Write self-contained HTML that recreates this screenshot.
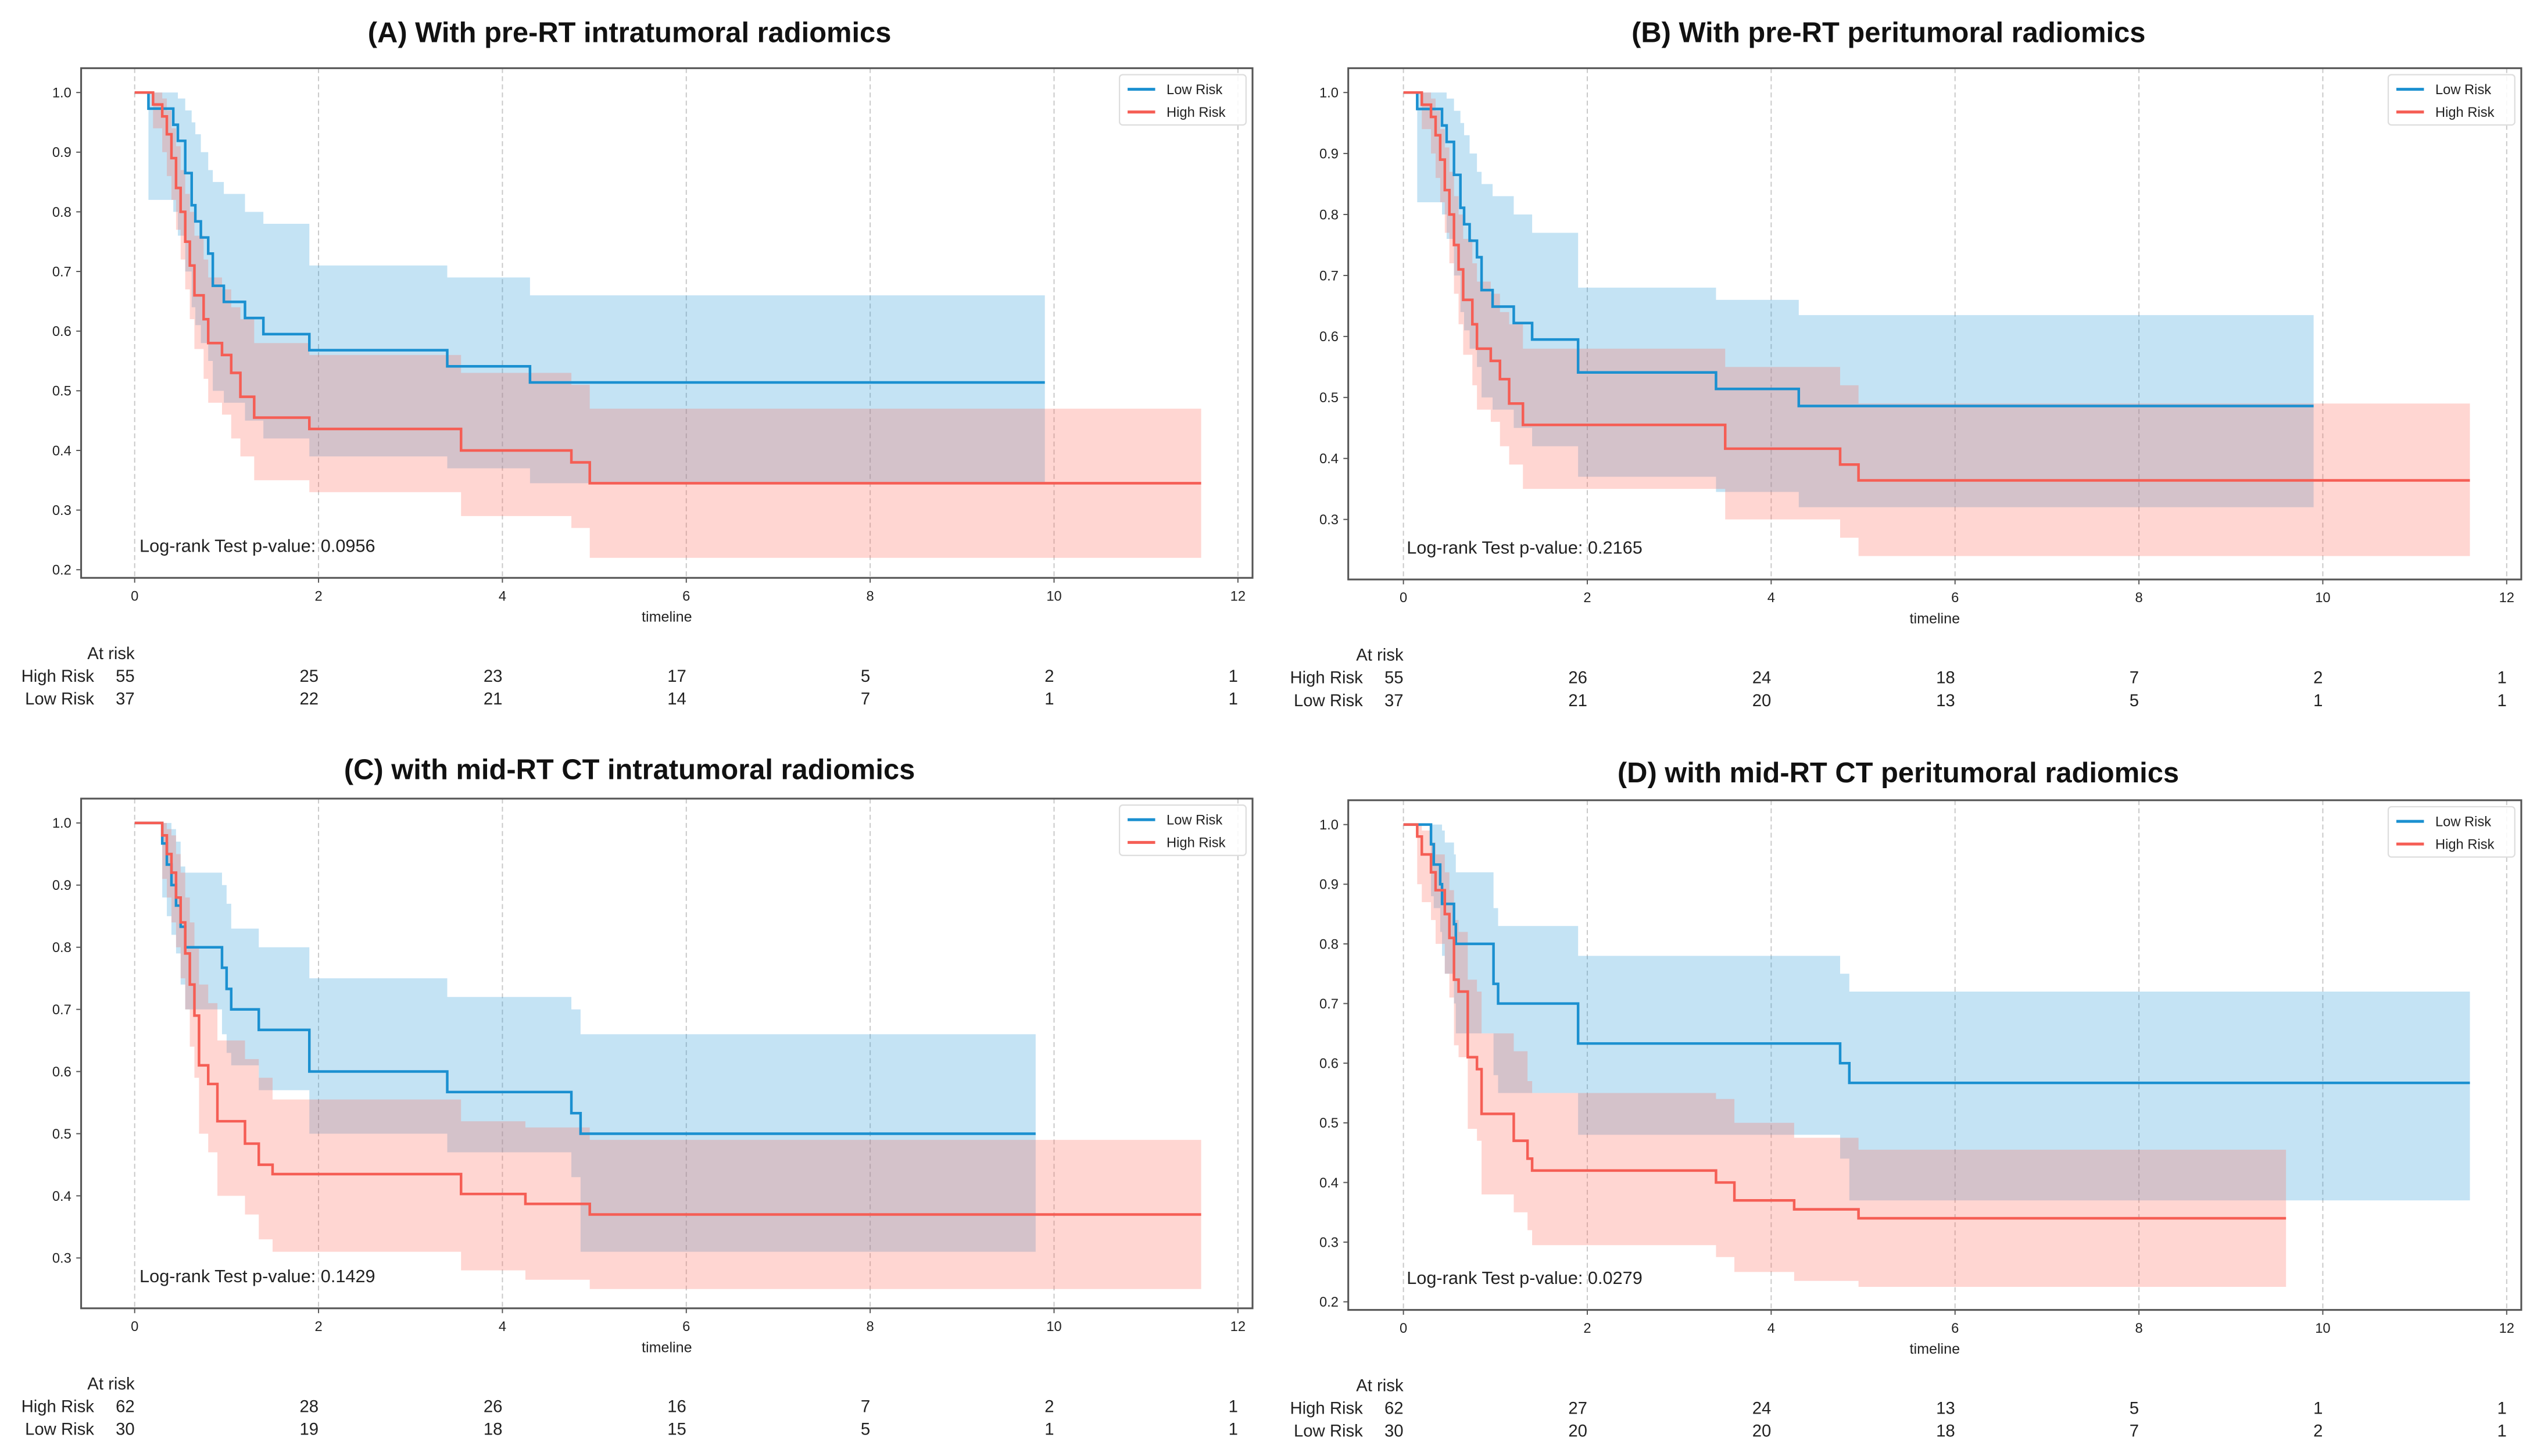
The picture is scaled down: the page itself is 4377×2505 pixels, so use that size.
<!DOCTYPE html>
<html><head><meta charset="utf-8">
<style>
html,body{margin:0;padding:0;background:#fff;}
svg{display:block;}
text{font-family:"Liberation Sans Narrow","Liberation Sans",sans-serif;fill:#222;}
.title{font-family:"Liberation Sans",sans-serif;font-weight:bold;font-size:17.5px;fill:#111;}
</style></head>
<body>
<svg id="fig" width="4377" height="2505" viewBox="0 0 1568 897" preserveAspectRatio="none" xmlns="http://www.w3.org/2000/svg"></svg>
<script>
// ---- Panel A ----
const aLowT=[0,0.15,0.42,0.47,0.55,0.62,0.66,0.72,0.8,0.85,0.97,1.2,1.4,1.9,3.4,4.3,9.9];
const aLowS=[1,0.973,0.946,0.919,0.865,0.811,0.784,0.757,0.730,0.676,0.649,0.622,0.595,0.568,0.541,0.514,0.514];
const aLowHi=[1,1,1,0.99,0.97,0.95,0.93,0.90,0.87,0.85,0.83,0.80,0.78,0.71,0.69,0.66,0.66];
const aLowLo=[1,0.82,0.80,0.76,0.70,0.64,0.61,0.58,0.55,0.50,0.48,0.45,0.42,0.39,0.37,0.345,0.345];
const aHighT=[0,0.2,0.3,0.35,0.4,0.45,0.5,0.55,0.6,0.65,0.75,0.8,0.95,1.05,1.15,1.3,1.9,3.55,4.75,4.95,11.6];
const aHighS=[1,0.98,0.96,0.93,0.89,0.84,0.80,0.75,0.71,0.66,0.62,0.58,0.56,0.53,0.49,0.455,0.436,0.40,0.38,0.345,0.345];
const aHighHi=[1,1,0.99,0.97,0.94,0.91,0.87,0.83,0.80,0.76,0.72,0.69,0.67,0.64,0.62,0.58,0.56,0.53,0.51,0.47,0.47];
const aHighLo=[1,0.94,0.90,0.86,0.82,0.77,0.72,0.67,0.62,0.57,0.52,0.48,0.46,0.42,0.39,0.35,0.33,0.29,0.27,0.22,0.22];
const aRiskHigh=[55,25,23,17,5,2,1];
const aRiskLow=[37,22,21,14,7,1,1];
// ---- Panel B ----
const bLowT=[0,0.15,0.42,0.47,0.55,0.62,0.66,0.72,0.8,0.85,0.97,1.2,1.4,1.9,3.4,4.3,9.9];
const bLowS=[1,0.973,0.946,0.919,0.865,0.811,0.784,0.757,0.730,0.676,0.649,0.622,0.595,0.541,0.514,0.486,0.486];
const bLowHi=[1,1,1,0.99,0.97,0.95,0.93,0.90,0.87,0.85,0.83,0.80,0.77,0.68,0.66,0.635,0.635];
const bLowLo=[1,0.82,0.80,0.76,0.70,0.64,0.61,0.58,0.55,0.50,0.48,0.45,0.42,0.37,0.345,0.32,0.32];
const bHighT=[0,0.2,0.3,0.35,0.4,0.45,0.5,0.55,0.6,0.65,0.75,0.8,0.95,1.05,1.15,1.3,3.5,4.75,4.95,11.6];
const bHighS=[1,0.98,0.96,0.93,0.89,0.84,0.80,0.75,0.71,0.66,0.62,0.58,0.56,0.53,0.49,0.455,0.416,0.39,0.364,0.364];
const bHighHi=[1,1,0.99,0.97,0.94,0.91,0.87,0.83,0.80,0.76,0.72,0.69,0.67,0.64,0.62,0.58,0.55,0.52,0.49,0.49];
const bHighLo=[1,0.94,0.90,0.86,0.82,0.77,0.72,0.67,0.62,0.57,0.52,0.48,0.46,0.42,0.39,0.35,0.30,0.27,0.24,0.24];
const bRiskHigh=[55,26,24,18,7,2,1];
const bRiskLow=[37,21,20,13,5,1,1];
// ---- Panel C ----
const cLowT=[0,0.3,0.35,0.4,0.45,0.5,0.55,0.95,1.0,1.05,1.35,1.9,3.4,4.75,4.85,9.8];
const cLowS=[1,0.967,0.933,0.90,0.867,0.833,0.80,0.767,0.733,0.70,0.667,0.60,0.567,0.533,0.50,0.50];
const cLowHi=[1,1,1,0.99,0.97,0.93,0.92,0.90,0.87,0.83,0.80,0.75,0.72,0.70,0.66,0.66];
const cLowLo=[1,0.88,0.85,0.82,0.79,0.74,0.70,0.66,0.63,0.61,0.57,0.50,0.47,0.43,0.31,0.31];
const cHighT=[0,0.3,0.35,0.4,0.45,0.5,0.55,0.6,0.65,0.7,0.8,0.9,1.2,1.35,1.5,3.55,4.25,4.95,11.6];
const cHighS=[1,0.98,0.95,0.92,0.88,0.84,0.79,0.74,0.69,0.61,0.58,0.52,0.484,0.45,0.435,0.403,0.387,0.37,0.37];
const cHighHi=[1,1,0.99,0.98,0.95,0.92,0.88,0.84,0.80,0.74,0.71,0.65,0.62,0.59,0.555,0.52,0.51,0.49,0.49];
const cHighLo=[1,0.91,0.88,0.84,0.80,0.75,0.70,0.64,0.59,0.50,0.47,0.40,0.37,0.33,0.31,0.28,0.265,0.25,0.25];
const cRiskHigh=[62,28,26,16,7,2,1];
const cRiskLow=[30,19,18,15,5,1,1];
// ---- Panel D ----
const dLowT=[0,0.3,0.33,0.4,0.42,0.45,0.55,0.57,0.98,1.03,1.9,4.75,4.85,11.6];
const dLowS=[1,0.967,0.933,0.90,0.867,0.867,0.833,0.80,0.733,0.70,0.633,0.60,0.567,0.567];
const dLowHi=[1,1,1,1,0.99,0.97,0.95,0.92,0.86,0.83,0.78,0.75,0.72,0.72];
const dLowLo=[1,0.88,0.86,0.82,0.78,0.75,0.70,0.65,0.58,0.55,0.48,0.44,0.37,0.37];
const dHighT=[0,0.15,0.2,0.3,0.35,0.45,0.5,0.55,0.6,0.7,0.8,0.85,1.2,1.35,1.4,3.4,3.6,4.25,4.95,9.6];
const dHighS=[1,0.98,0.95,0.92,0.89,0.85,0.81,0.74,0.72,0.61,0.59,0.515,0.47,0.44,0.42,0.40,0.37,0.355,0.34,0.34];
const dHighHi=[1,1,0.99,0.97,0.95,0.92,0.89,0.84,0.82,0.74,0.72,0.65,0.62,0.57,0.55,0.54,0.50,0.475,0.455,0.455];
const dHighLo=[1,0.90,0.87,0.84,0.80,0.75,0.71,0.63,0.61,0.49,0.47,0.38,0.35,0.32,0.295,0.275,0.25,0.235,0.225,0.225];
const dRiskHigh=[62,27,24,13,5,1,1];
const dRiskLow=[30,20,20,18,7,2,1];

const xTicks=[0,2,4,6,8,10,12];
const aYTicks=[0.2,0.3,0.4,0.5,0.6,0.7,0.8,0.9,1.0];
const bYTicks=[0.3,0.4,0.5,0.6,0.7,0.8,0.9,1.0];
const cYTicks=[0.3,0.4,0.5,0.6,0.7,0.8,0.9,1.0];
const dYTicks=[0.2,0.3,0.4,0.5,0.6,0.7,0.8,0.9,1.0];

const NS='http://www.w3.org/2000/svg';
const svg=document.getElementById('fig');
function mk(tag,attrs,parent){const e=document.createElementNS(NS,tag);for(const k in attrs)e.setAttribute(k,attrs[k]);(parent||svg).appendChild(e);return e;}
function txt(s,attrs,parent){const e=mk('text',attrs,parent);e.textContent=s;return e;}

function panel(p){
  const g=mk('g',{});
  
  
  const X=t=>p.x0+(t)*(p.x12-p.x0)/12;
  const Y=v=>p.y1+(1-v)*(p.yRef-p.y1)/(1-p.vRef);
  const t=txt(p.title,{x:p.tx,y:p.ty,'text-anchor':'middle',class:'title'},g);
  
  
  xTicks.forEach(v=>{
    const l=mk('line',{x1:X(v),x2:X(v),y1:p.top,y2:p.bot,stroke:'#c8c8c8','stroke-width':0.7,'stroke-dasharray':'3,2'},g);
    
    
  });
  function band(T,lo,hi,color,name){
    let up='',dn=[];
    for(let i=0;i<T.length;i++){
      const xa=X(T[i]),xb=X(i<T.length-1?T[i+1]:T[i]);
      up+=(i?'L':'M')+xa+','+Y(hi[i])+'L'+xb+','+Y(hi[i]);
      dn.unshift('L'+xb+','+Y(lo[i])+'L'+xa+','+Y(lo[i]));
    }
    const e=mk('path',{d:up+dn.join('')+'Z',fill:color,'fill-opacity':0.28,stroke:'none'},g);
    
    
  }
  function curve(T,S,color,name){
    let d='';
    for(let i=0;i<T.length;i++){
      const xa=X(T[i]),xb=X(i<T.length-1?T[i+1]:T[i]);
      d+=(i?'L':'M')+xa+','+Y(S[i])+'L'+xb+','+Y(S[i]);
    }
    const e=mk('path',{d:d,fill:'none',stroke:color,'stroke-width':1.6},g);
    
    
  }
  band(p.lowT,p.lowLo,p.lowHi,'#2a9bd8','low-risk-ci');
  band(p.highT,p.highLo,p.highHi,'#ff6b5f','high-risk-ci');
  curve(p.lowT,p.lowS,'#1b90d0','low-risk-curve');
  curve(p.highT,p.highS,'#f55e55','high-risk-curve');
  const fr=mk('rect',{x:p.left,y:p.top,width:p.right-p.left,height:p.bot-p.top,fill:'none',stroke:'#555','stroke-width':1.1},g);
  
  
  xTicks.forEach(v=>{
    mk('line',{x1:X(v),x2:X(v),y1:p.bot,y2:p.bot+3,stroke:'#555','stroke-width':0.7},g);
    const e=txt(String(v),{x:X(v),y:p.bot+14,'text-anchor':'middle','font-size':8.5},g);
    
    
  });
  p.yTicks.forEach(v=>{
    mk('line',{x1:p.left-3,x2:p.left,y1:Y(v),y2:Y(v),stroke:'#555','stroke-width':0.7},g);
    const e=txt(v.toFixed(1),{x:p.left-6,y:Y(v)+3,'text-anchor':'end','font-size':8.5},g);
    
    
  });
  const xl=txt('timeline',{x:(p.left+p.right)/2,y:p.bot+27,'text-anchor':'middle','font-size':9},g);
  
  
  const lg=mk('g',{},g);
  
  
  mk('rect',{x:p.right-82,y:p.top+4,width:78,height:31,fill:'#fff','fill-opacity':0.85,stroke:'#ddd','stroke-width':0.8,rx:2},lg);
  mk('line',{x1:p.right-77,x2:p.right-60,y1:p.top+13,y2:p.top+13,stroke:'#1b90d0','stroke-width':1.8},lg);
  mk('line',{x1:p.right-77,x2:p.right-60,y1:p.top+27,y2:p.top+27,stroke:'#f55e55','stroke-width':1.8},lg);
  txt('Low Risk',{x:p.right-53,y:p.top+16,'font-size':8.5},lg);
  txt('High Risk',{x:p.right-53,y:p.top+30,'font-size':8.5},lg);
  const pv=txt('Log-rank Test p-value: '+p.pval,{x:p.left+36,y:p.bot-16,'font-size':11},g);
  
  
  const ar=mk('g',{},g);
  
  
  txt('At risk',{x:X(0),y:p.bot+50,'text-anchor':'end','font-size':10.5},ar);
  txt('High Risk',{x:X(0)-25,y:p.bot+64,'text-anchor':'end','font-size':10.5},ar);
  txt('Low Risk',{x:X(0)-25,y:p.bot+78,'text-anchor':'end','font-size':10.5},ar);
  xTicks.forEach((v,i)=>{
    txt(String(p.riskHigh[i]),{x:X(v),y:p.bot+64,'text-anchor':'end','font-size':10.5},ar);
    txt(String(p.riskLow[i]),{x:X(v),y:p.bot+78,'text-anchor':'end','font-size':10.5},ar);
  });
}

panel({key:'a',title:'(A) With pre-RT intratumoral radiomics',tx:388,ty:26,left:50,right:772,top:42,bot:356,x0:83,x12:763,y1:57,yRef:351,vRef:0.2,
  lowT:aLowT,lowS:aLowS,lowHi:aLowHi,lowLo:aLowLo,highT:aHighT,highS:aHighS,highHi:aHighHi,highLo:aHighLo,riskHigh:aRiskHigh,riskLow:aRiskLow,yTicks:aYTicks,pval:'0.0956'});
panel({key:'b',title:'(B) With pre-RT peritumoral radiomics',tx:1164,ty:26,left:831,right:1554,top:42,bot:357,x0:865,x12:1545,y1:57,yRef:320,vRef:0.3,
  lowT:bLowT,lowS:bLowS,lowHi:bLowHi,lowLo:bLowLo,highT:bHighT,highS:bHighS,highHi:bHighHi,highLo:bHighLo,riskHigh:bRiskHigh,riskLow:bRiskLow,yTicks:bYTicks,pval:'0.2165'});
panel({key:'c',title:'(C) with mid-RT CT intratumoral radiomics',tx:388,ty:480,left:50,right:772,top:492,bot:806,x0:83,x12:763,y1:507,yRef:775,vRef:0.3,
  lowT:cLowT,lowS:cLowS,lowHi:cLowHi,lowLo:cLowLo,highT:cHighT,highS:cHighS,highHi:cHighHi,highLo:cHighLo,riskHigh:cRiskHigh,riskLow:cRiskLow,yTicks:cYTicks,pval:'0.1429'});
panel({key:'d',title:'(D) with mid-RT CT peritumoral radiomics',tx:1170,ty:482,left:831,right:1554,top:493,bot:807,x0:865,x12:1545,y1:508,yRef:802,vRef:0.2,
  lowT:dLowT,lowS:dLowS,lowHi:dLowHi,lowLo:dLowLo,highT:dHighT,highS:dHighS,highHi:dHighHi,highLo:dHighLo,riskHigh:dRiskHigh,riskLow:dRiskLow,yTicks:dYTicks,pval:'0.0279'});
</script>
</body></html>
